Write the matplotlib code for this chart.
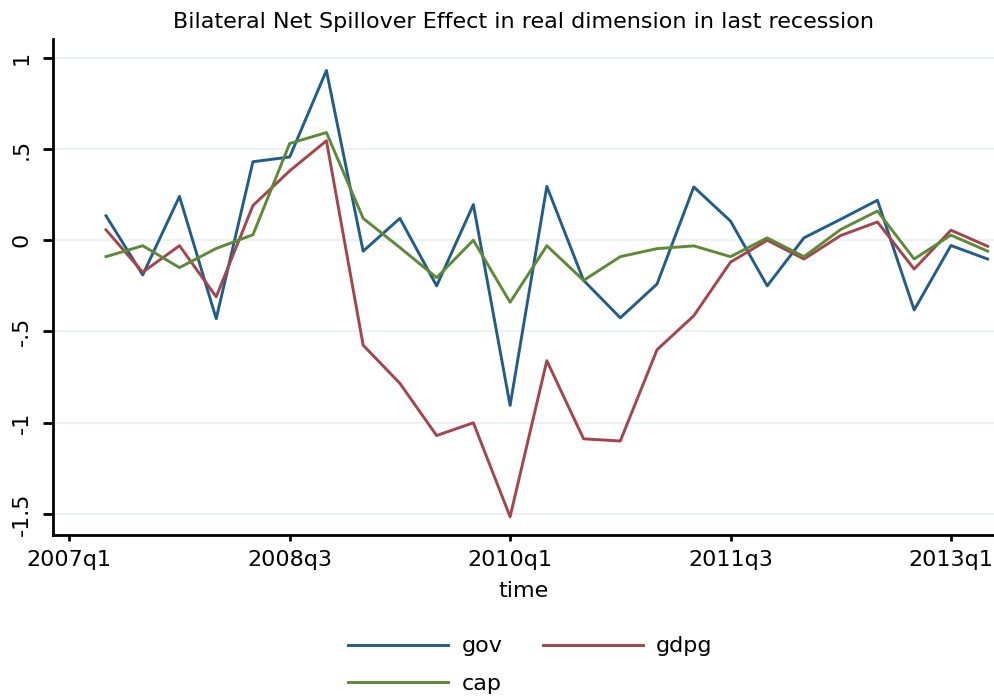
import matplotlib
matplotlib.use("Agg")
import matplotlib.pyplot as plt

# quarters: index 0 = 2007q1
quarters = list(range(1, 26))  # 2007q2 .. 2013q2
tick_pos = [0, 6, 12, 18, 24]
tick_labels = ["2007q1", "2008q3", "2010q1", "2011q3", "2013q1"]
ytick_vals = [1, 0.5, 0, -0.5, -1, -1.5]
ytick_labels = ["1", ".5", "0", "-.5", "-1", "-1.5"]

gov = [0.134, -0.19, 0.24, -0.43, 0.43, 0.456, 0.93, -0.06,
       0.12, -0.25, 0.195, -0.905, 0.295, -0.22, -0.425, -0.24,
       0.292, 0.105, -0.25, 0.013, 0.115, 0.219, -0.382, -0.029, -0.103]
gdpg = [0.057, -0.175, -0.03, -0.31, 0.19, 0.38, 0.545, -0.575,
        -0.784, -1.07, -1.0, -1.515, -0.66, -1.088, -1.10, -0.60,
        -0.414, -0.12, 0.0, -0.103, 0.026, 0.10, -0.158, 0.055, -0.033]
cap = [-0.09, -0.03, -0.15, -0.045, 0.03, 0.53, 0.59, 0.12,
       -0.04, -0.205, 0.0, -0.34, -0.03, -0.22, -0.09, -0.046,
       -0.031, -0.09, 0.013, -0.09, 0.059, 0.16, -0.103, 0.028, -0.06]

plt.rcParams['font.family'] = ['DejaVu Sans']
FS = 16

fig = plt.figure(figsize=(9.95, 6.98), dpi=100)
ax = fig.add_axes([0.053, 0.2335, 0.947, 0.7105])

c_gov = "#215d89"
c_gdpg = "#a4444c"
c_cap = "#5d8a35"

l1, = ax.plot(quarters, gov, color=c_gov, lw=2.1, label="gov")
l2, = ax.plot(quarters, gdpg, color=c_gdpg, lw=2.1, label="gdpg")
l3, = ax.plot(quarters, cap, color=c_cap, lw=2.1, label="cap")

ax.set_xlim(-0.45, 25.2)
ax.set_ylim(-1.615, 1.102)

ax.set_yticks(ytick_vals)
ax.set_yticklabels(ytick_labels, rotation=90, va="center", fontsize=FS)
ax.set_xticks(tick_pos)
ax.set_xticklabels(tick_labels, fontsize=FS)

ax.grid(axis="y", color="#eaf2f3", lw=1.5)
ax.set_axisbelow(True)

for s in ["top", "right"]:
    ax.spines[s].set_visible(False)
for s in ["left", "bottom"]:
    ax.spines[s].set_linewidth(2.0)
    ax.spines[s].set_color("black")
ax.tick_params(axis="y", length=7, width=2.0, direction="out", pad=8)
ax.tick_params(axis="x", length=4, width=2.0, direction="out", pad=7)

ax.set_xlabel("time", fontsize=FS, labelpad=8)
ax.set_title("Bilateral Net Spillover Effect in real dimension in last recession",
             fontsize=FS, pad=8)

fig.legend(handles=[l1, l3, l2], labels=["gov", "cap", "gdpg"],
           loc="center", bbox_to_anchor=(0.533, 0.047), ncol=2,
           frameon=False, fontsize=FS, handlelength=4.5, handletextpad=0.6,
           columnspacing=1.8, labelspacing=0.8)

fig.savefig("out.png", dpi=100)
